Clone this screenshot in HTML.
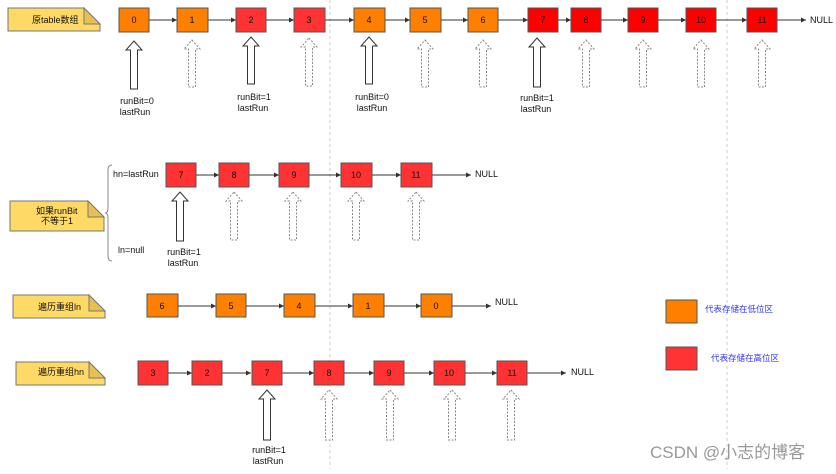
<!DOCTYPE html>
<html><head><meta charset="utf-8"><style>
body{margin:0;background:#fff;}
svg text{font-family:"Liberation Sans","Noto Sans CJK SC",sans-serif;font-size:9px;fill:#111;}
</style></head><body>
<svg width="836" height="469" viewBox="0 0 836 469" xmlns="http://www.w3.org/2000/svg">
<defs>
<marker id="ah" markerWidth="6" markerHeight="6" refX="5" refY="3" orient="auto"><path d="M0,0.5 L5,3 L0,5.5z" fill="#333"/></marker>
</defs>
<line x1="330" y1="0" x2="330" y2="469" stroke="#ccc" stroke-dasharray="3,3"/>
<line x1="727" y1="0" x2="727" y2="469" stroke="#ccc" stroke-dasharray="3,3"/>

<g stroke="#777" fill="#FFD966">
<path d="M8,8 H84 L100,24 V31 H8z"/><path d="M84,8 V24 H100z" fill="#e8c050"/>
<path d="M10,201 H88 L104,217 V231 H10z"/><path d="M88,201 V217 H104z" fill="#e8c050"/>
<path d="M13,295 H89 L105,311 V318 H13z"/><path d="M89,295 V311 H105z" fill="#e8c050"/>
<path d="M16,362 H89 L105,378 V385 H16z"/><path d="M89,362 V378 H105z" fill="#e8c050"/>
</g>
<text x="32" y="23">原table数组</text>
<text x="36" y="214">如果runBit</text><text x="41" y="224">不等于1</text>
<text x="38" y="310">遍历重组ln</text>
<text x="38" y="375">遍历重组hn</text>

<g stroke="#333" stroke-width="1" marker-end="url(#ah)">
<line x1="149" y1="20" x2="177" y2="20"/><line x1="208" y1="20" x2="236" y2="20"/><line x1="266" y1="20" x2="294" y2="20"/><line x1="325" y1="20" x2="354" y2="20"/><line x1="385" y1="20" x2="410" y2="20"/><line x1="441" y1="20" x2="468" y2="20"/><line x1="498" y1="20" x2="528" y2="20"/><line x1="558" y1="20" x2="571" y2="20"/><line x1="601" y1="20" x2="628" y2="20"/><line x1="658" y1="20" x2="686" y2="20"/><line x1="716" y1="20" x2="747" y2="20"/><line x1="777" y1="20" x2="806" y2="20"/>
<line x1="196" y1="175" x2="219" y2="175"/><line x1="249" y1="175" x2="279" y2="175"/><line x1="309" y1="175" x2="341" y2="175"/><line x1="372" y1="175" x2="401" y2="175"/><line x1="432" y1="175" x2="471" y2="175"/>
<line x1="178" y1="306" x2="216" y2="306"/><line x1="246" y1="306" x2="284" y2="306"/><line x1="315" y1="306" x2="353" y2="306"/><line x1="384" y1="306" x2="421" y2="306"/><line x1="452" y1="306" x2="491" y2="306"/>
<line x1="168" y1="373" x2="192" y2="373"/><line x1="222" y1="373" x2="251" y2="373"/><line x1="282" y1="373" x2="314" y2="373"/><line x1="344" y1="373" x2="374" y2="373"/><line x1="404" y1="373" x2="434" y2="373"/><line x1="465" y1="373" x2="497" y2="373"/><line x1="527" y1="373" x2="566" y2="373"/>
</g>
<text x="810" y="23">NULL</text><text x="475" y="177">NULL</text><text x="495" y="305">NULL</text><text x="571" y="375">NULL</text>

<g stroke="#555" text-anchor="middle">
<rect x="119" y="8" width="30" height="24" fill="#FF8000"/><rect x="177" y="8" width="31" height="24" fill="#FF8000"/><rect x="236" y="8" width="30" height="24" fill="#FF3333"/><rect x="294" y="8" width="31" height="24" fill="#FF3333"/><rect x="354" y="8" width="31" height="24" fill="#FF8000"/><rect x="410" y="8" width="31" height="24" fill="#FF8000"/><rect x="468" y="8" width="30" height="24" fill="#FF8000"/><rect x="528" y="8" width="30" height="24" fill="#FF0000"/><rect x="571" y="8" width="30" height="24" fill="#FF0000"/><rect x="628" y="8" width="30" height="24" fill="#FF0000"/><rect x="686" y="8" width="30" height="24" fill="#FF0000"/><rect x="747" y="8" width="30" height="24" fill="#FF0000"/>
<rect x="166" y="163" width="30" height="24" fill="#FF3333"/><rect x="219" y="163" width="30" height="24" fill="#FF3333"/><rect x="279" y="163" width="30" height="24" fill="#FF3333"/><rect x="341" y="163" width="31" height="24" fill="#FF3333"/><rect x="401" y="163" width="31" height="24" fill="#FF3333"/>
<rect x="147" y="294" width="31" height="23" fill="#FF8000"/><rect x="216" y="294" width="30" height="23" fill="#FF8000"/><rect x="284" y="294" width="31" height="23" fill="#FF8000"/><rect x="353" y="294" width="31" height="23" fill="#FF8000"/><rect x="421" y="294" width="31" height="23" fill="#FF8000"/>
<rect x="138" y="361" width="30" height="24" fill="#FF3333"/><rect x="192" y="361" width="30" height="24" fill="#FF3333"/><rect x="252" y="361" width="30" height="24" fill="#FF3333"/><rect x="314" y="361" width="30" height="24" fill="#FF3333"/><rect x="374" y="361" width="30" height="24" fill="#FF3333"/><rect x="434" y="361" width="31" height="24" fill="#FF3333"/><rect x="497" y="361" width="30" height="24" fill="#FF3333"/>
<rect x="666" y="300" width="31" height="23" fill="#FF8000"/><rect x="666" y="347" width="31" height="23" fill="#FF3333"/>
</g>
<g text-anchor="middle">
<text x="134" y="23">0</text><text x="192" y="23">1</text><text x="251" y="23">2</text><text x="309" y="23">3</text><text x="369" y="23">4</text><text x="425" y="23">5</text><text x="483" y="23">6</text><text x="543" y="23">7</text><text x="586" y="23">8</text><text x="643" y="23">9</text><text x="701" y="23">10</text><text x="762" y="23">11</text>
<text x="181" y="178">7</text><text x="234" y="178">8</text><text x="294" y="178">9</text><text x="356" y="178">10</text><text x="416" y="178">11</text>
<text x="162" y="309">6</text><text x="231" y="309">5</text><text x="299" y="309">4</text><text x="368" y="309">1</text><text x="436" y="309">0</text>
<text x="153" y="376">3</text><text x="207" y="376">2</text><text x="267" y="376">7</text><text x="329" y="376">8</text><text x="389" y="376">9</text><text x="449" y="376">10</text><text x="512" y="376">11</text>
</g>

<g fill="#fff" stroke="#333">
<polygon points="134,41 142,50 137.5,50 137.5,89 130.5,89 130.5,50 126,50"/>
<polygon points="251,37 259,46 254.5,46 254.5,84 247.5,84 247.5,46 243,46"/>
<polygon points="369,37 377,46 372.5,46 372.5,84 365.5,84 365.5,46 361,46"/>
<polygon points="537,38 545,47 540.5,47 540.5,87 533.5,87 533.5,47 529,47"/>
<polygon points="180,192 188,201 183.5,201 183.5,241 176.5,241 176.5,201 172,201"/>
<polygon points="267,390 275,399 270.5,399 270.5,440 263.5,440 263.5,399 259,399"/>
</g>
<g fill="#fff" stroke="#888" stroke-dasharray="2,1.5">
<polygon points="192,40 200,49 195.5,49 195.5,87 188.5,87 188.5,49 184,49"/>
<polygon points="309,38 317,47 312.5,47 312.5,86 305.5,86 305.5,47 301,47"/>
<polygon points="425,40 433,49 428.5,49 428.5,87 421.5,87 421.5,49 417,49"/>
<polygon points="483,40 491,49 486.5,49 486.5,87 479.5,87 479.5,49 475,49"/>
<polygon points="586,40 594,49 589.5,49 589.5,87 582.5,87 582.5,49 578,49"/>
<polygon points="643,40 651,49 646.5,49 646.5,87 639.5,87 639.5,49 635,49"/>
<polygon points="701,40 709,49 704.5,49 704.5,87 697.5,87 697.5,49 693,49"/>
<polygon points="762,40 770,49 765.5,49 765.5,87 758.5,87 758.5,49 754,49"/>
<polygon points="234,192 242,201 237.5,201 237.5,240 230.5,240 230.5,201 226,201"/>
<polygon points="293,192 301,201 296.5,201 296.5,240 289.5,240 289.5,201 285,201"/>
<polygon points="356,192 364,201 359.5,201 359.5,240 352.5,240 352.5,201 348,201"/>
<polygon points="416,192 424,201 419.5,201 419.5,240 412.5,240 412.5,201 408,201"/>
<polygon points="329,390 337,399 332.5,399 332.5,440 325.5,440 325.5,399 321,399"/>
<polygon points="390,390 398,399 393.5,399 393.5,440 386.5,440 386.5,399 382,399"/>
<polygon points="452,390 460,399 455.5,399 455.5,440 448.5,440 448.5,399 444,399"/>
<polygon points="511,390 519,399 514.5,399 514.5,440 507.5,440 507.5,399 503,399"/>
</g>
<g text-anchor="middle">
<text x="137" y="104">runBit=0</text><text x="135" y="115">lastRun</text>
<text x="254" y="100">runBit=1</text><text x="253" y="111">lastRun</text>
<text x="372" y="100">runBit=0</text><text x="372" y="111">lastRun</text>
<text x="537" y="101">runBit=1</text><text x="536" y="112">lastRun</text>
<text x="184" y="255">runBit=1</text><text x="183" y="266">lastRun</text>
<text x="269" y="453">runBit=1</text><text x="268" y="464">lastRun</text>
</g>
<text x="113" y="177">hn=lastRun</text>
<text x="118" y="253">ln=null</text>
<path d="M112,165 Q108,165 108,170 V208 Q108,213 105,213 Q108,213 108,218 V256 Q108,261 112,261" fill="none" stroke="#888"/>
<text x="705" y="312" style="fill:#3333ff;font-size:8.5px">代表存储在低位区</text>
<text x="711" y="361" style="fill:#3333ff;font-size:8.5px">代表存储在高位区</text>
<text x="650" y="458" style="fill:#999;font-size:17px">CSDN @小志的博客</text>
</svg>
</body></html>
